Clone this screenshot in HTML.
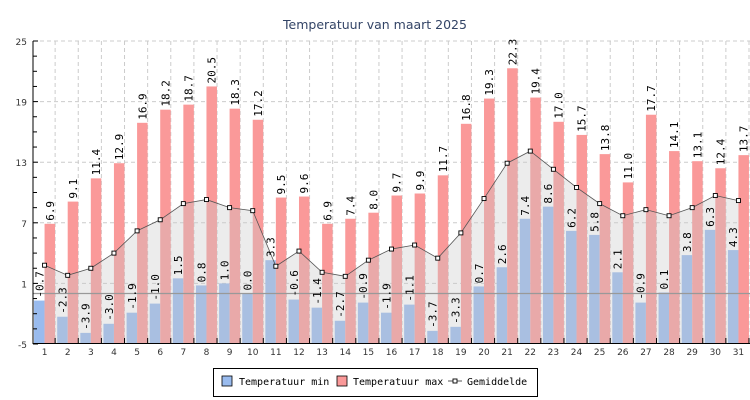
<!DOCTYPE html>
<html><head><meta charset="utf-8"><style>
body{margin:0;background:#fff}
svg{display:block;font-family:"DejaVu Sans Mono","Liberation Mono",monospace}
</style></head><body>
<svg id="c" width="750" height="400" xmlns="http://www.w3.org/2000/svg"></svg>
<script>
const mn=[-0.7,-2.3,-3.9,-3.0,-1.9,-1.0,1.5,0.8,1.0,0.0,3.3,-0.6,-1.4,-2.7,-0.9,-1.9,-1.1,-3.7,-3.3,0.7,2.6,7.4,8.6,6.2,5.8,2.1,-0.9,0.1,3.8,6.3,4.3];
const mx=[6.9,9.1,11.4,12.9,16.9,18.2,18.7,20.5,18.3,17.2,9.5,9.6,6.9,7.4,8.0,9.7,9.9,11.7,16.8,19.3,22.3,19.4,17.0,15.7,13.8,11.0,17.7,14.1,13.1,12.4,13.7];
const av=[2.8,1.8,2.5,4.0,6.2,7.3,8.9,9.3,8.5,8.2,2.7,4.2,2.1,1.7,3.3,4.4,4.8,3.5,6.0,9.4,12.9,14.1,12.3,10.5,8.9,7.7,8.3,7.7,8.5,9.7,9.2];
const X0=33,X1=750,W=(X1-X0)/31;
const Y=v=>41+(25-v)*10.1;
let s='';
s+=`<text x="375" y="29" text-anchor="middle" font-family="DejaVu Sans, Liberation Sans, sans-serif" font-size="12.5" fill="#334466">Temperatuur van maart 2025</text>`;
for(let v=25;v>-5;v-=6){s+=`<line x1="${X0}" x2="${X1}" y1="${Y(v)}" y2="${Y(v)}" stroke="#ccc" stroke-dasharray="4,3"/>`;}
for(let i=1;i<=31;i++){const x=X0+i*W-1;s+=`<line x1="${x}" x2="${x}" y1="41" y2="343" stroke="#ccc" stroke-dasharray="4,3"/>`;}
for(let i=0;i<31;i++){const c=X0+(i+0.5)*W;
 s+=`<rect x="${c-10.5}" y="${Y(mn[i])}" width="10.5" height="${343-Y(mn[i])}" fill="#99bbee"/>`;
 s+=`<rect x="${c}" y="${Y(mx[i])}" width="10.5" height="${343-Y(mx[i])}" fill="#fa9999"/>`;}
let pts=[];for(let i=0;i<31;i++){pts.push([X0+(i+0.5)*W,Y(av[i])]);}
s+=`<polygon points="${X0+0.5*W},343 ${pts.map(p=>p.join(',')).join(' ')} ${X0+30.5*W},343" fill="rgba(200,200,200,0.35)"/>`;
s+=`<line x1="${X0}" x2="${X1}" y1="${Y(0)}" y2="${Y(0)}" stroke="#999" stroke-width="1.2"/>`;
s+=`<polyline points="${pts.map(p=>p.join(',')).join(' ')}" fill="none" stroke="#555" stroke-width="0.8"/>`;
pts.forEach(p=>{s+=`<rect x="${p[0]-2}" y="${p[1]-2}" width="4" height="4" fill="#fff" stroke="#000" stroke-width="0.9"/>`;});
for(let i=0;i<31;i++){const c=X0+(i+0.5)*W;
 [[c-5.2,mn[i]],[c+5.2,mx[i]]].forEach(([x,v])=>{const y=Y(v)-3;
 s+=`<text transform="translate(${x+4},${y}) rotate(-90)" font-size="11" fill="#000">${v.toFixed(1)}</text>`;});}
s+=`<line x1="${X0}" x2="${X0}" y1="41" y2="344" stroke="#000"/><line x1="${X0}" x2="${X1}" y1="343.5" y2="343.5" stroke="#000"/>`;
for(let k=0;k<=20;k++){const y=41+k*15.15;const big=k%4==0;s+=`<line x1="${X0}" x2="${X0+(big?5:4)}" y1="${y}" y2="${y}" stroke="#000"/>`;}
[25,19,13,7,1,-5].forEach(v=>{s+=`<text x="${X0-6}" y="${Y(v)+4}" text-anchor="end" font-family="DejaVu Sans, Liberation Sans, sans-serif" font-size="9" fill="#333">${v}</text>`;});
for(let i=1;i<=31;i++){const c=X0+(i-0.5)*W;s+=`<line x1="${X0+i*W-1}" x2="${X0+i*W-1}" y1="338" y2="343" stroke="#000"/><text x="${c}" y="355" text-anchor="middle" font-family="DejaVu Sans, Liberation Sans, sans-serif" font-size="9" fill="#333">${i}</text>`;}
s+=`<rect x="213.5" y="368.5" width="324" height="28" fill="#fff" stroke="#000"/>`;
s+=`<rect x="222" y="376" width="10" height="10" fill="#99bbee" stroke="#000" stroke-width="0.8"/><text x="239" y="385" font-size="10">Temperatuur min</text>`;
s+=`<rect x="337" y="376" width="10" height="10" fill="#fa9999" stroke="#000" stroke-width="0.8"/><text x="353" y="385" font-size="10">Temperatuur max</text>`;
s+=`<line x1="448" x2="462" y1="381" y2="381" stroke="#555"/><rect x="453" y="379" width="4" height="4" fill="#fff" stroke="#000" stroke-width="0.9"/><text x="467" y="385" font-size="10">Gemiddelde</text>`;
document.getElementById('c').innerHTML=s;
</script>
</body></html>
